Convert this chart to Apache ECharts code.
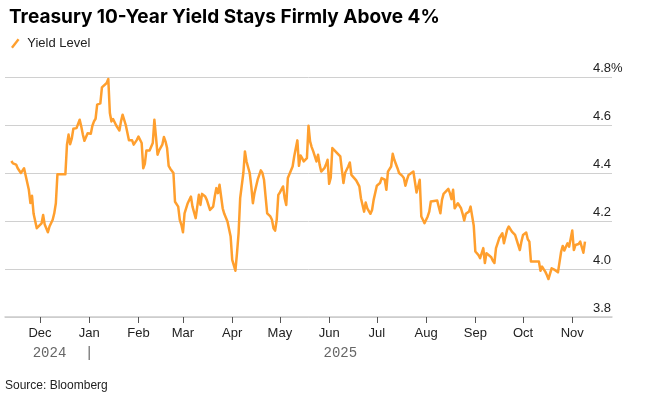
<!DOCTYPE html>
<html>
<head>
<meta charset="utf-8">
<script src="https://cdn.jsdelivr.net/npm/echarts@6/dist/echarts.min.js"></script>
<style>
html,body{margin:0;padding:0;background:#fff;}
#c{width:646px;height:401px;}
</style>
</head>
<body>
<div id="c"></div>
<script>
const title = 'Treasury 10-Year Yield Stays Firmly Above 4%';
const seriesName = 'Yield Level';
const sourceText = 'Source: Bloomberg';

const dates = [
'2024-11-13','2024-11-14','2024-11-16','2024-11-17','2024-11-19','2024-11-20','2024-11-21','2024-11-22','2024-11-24','2024-11-25','2024-11-26','2024-11-27','2024-11-29','2024-11-30',
'2024-12-02','2024-12-03','2024-12-04','2024-12-05','2024-12-06','2024-12-07','2024-12-09','2024-12-10','2024-12-11','2024-12-12','2024-12-17','2024-12-18','2024-12-19','2024-12-20','2024-12-21','2024-12-22','2024-12-24','2024-12-25','2024-12-26','2024-12-27','2024-12-28','2024-12-29','2024-12-31',
'2025-01-01','2025-01-02','2025-01-03','2025-01-04','2025-01-05','2025-01-06','2025-01-08','2025-01-09','2025-01-10','2025-01-12','2025-01-13','2025-01-14','2025-01-15','2025-01-16','2025-01-17','2025-01-18','2025-01-20','2025-01-21','2025-01-22','2025-01-24','2025-01-26','2025-01-27','2025-01-28','2025-01-29','2025-01-31',
'2025-02-01','2025-02-02','2025-02-03','2025-02-04','2025-02-05','2025-02-06','2025-02-08','2025-02-09','2025-02-10','2025-02-11','2025-02-12','2025-02-13','2025-02-14','2025-02-16','2025-02-17','2025-02-18','2025-02-19','2025-02-20','2025-02-21','2025-02-23','2025-02-24','2025-02-26','2025-02-27','2025-02-28',
'2025-03-01','2025-03-02','2025-03-04','2025-03-05','2025-03-06','2025-03-07','2025-03-09','2025-03-10','2025-03-11','2025-03-12','2025-03-13','2025-03-14','2025-03-15','2025-03-16','2025-03-18','2025-03-19','2025-03-20','2025-03-21','2025-03-22','2025-03-23','2025-03-24','2025-03-25','2025-03-26','2025-03-27','2025-03-29','2025-03-31',
'2025-04-01','2025-04-03','2025-04-04','2025-04-05','2025-04-06','2025-04-08','2025-04-09','2025-04-10','2025-04-12','2025-04-13','2025-04-14','2025-04-15','2025-04-16','2025-04-17','2025-04-19','2025-04-20','2025-04-21','2025-04-22','2025-04-23','2025-04-25','2025-04-26','2025-04-27','2025-04-28','2025-04-29','2025-04-30',
'2025-05-01','2025-05-03','2025-05-04','2025-05-05','2025-05-06','2025-05-07','2025-05-09','2025-05-10','2025-05-11','2025-05-12','2025-05-13','2025-05-14','2025-05-15','2025-05-16','2025-05-18','2025-05-19','2025-05-20','2025-05-21','2025-05-22','2025-05-24','2025-05-25','2025-05-26','2025-05-27','2025-05-28','2025-05-29','2025-05-30','2025-05-31',
'2025-06-01','2025-06-02','2025-06-03','2025-06-06','2025-06-08','2025-06-10','2025-06-11','2025-06-13','2025-06-14','2025-06-15','2025-06-16','2025-06-18','2025-06-20','2025-06-21','2025-06-22','2025-06-23','2025-06-24','2025-06-25','2025-06-27','2025-06-28','2025-06-29',
'2025-07-01','2025-07-03','2025-07-04','2025-07-06','2025-07-07','2025-07-08','2025-07-09','2025-07-10','2025-07-11','2025-07-12','2025-07-14','2025-07-15','2025-07-16','2025-07-17','2025-07-18','2025-07-19','2025-07-20','2025-07-21','2025-07-22','2025-07-24','2025-07-25','2025-07-26','2025-07-27','2025-07-28','2025-07-29','2025-07-30','2025-07-31',
'2025-08-02','2025-08-03','2025-08-04','2025-08-05','2025-08-08','2025-08-10','2025-08-11','2025-08-12','2025-08-13','2025-08-15','2025-08-16','2025-08-17','2025-08-18','2025-08-19','2025-08-20','2025-08-21','2025-08-23','2025-08-24','2025-08-25','2025-08-26','2025-08-28','2025-08-29','2025-08-30','2025-08-31',
'2025-09-01','2025-09-03','2025-09-04','2025-09-05','2025-09-06','2025-09-07','2025-09-08','2025-09-09','2025-09-11','2025-09-12','2025-09-13','2025-09-14','2025-09-15','2025-09-16','2025-09-17','2025-09-18','2025-09-19','2025-09-21','2025-09-22','2025-09-23','2025-09-24','2025-09-26','2025-09-27','2025-09-28','2025-09-29','2025-09-30',
'2025-10-01','2025-10-03','2025-10-04','2025-10-05','2025-10-06','2025-10-08','2025-10-09','2025-10-11','2025-10-12','2025-10-13','2025-10-14','2025-10-15','2025-10-16','2025-10-17','2025-10-19','2025-10-20','2025-10-21','2025-10-23','2025-10-24','2025-10-25','2025-10-26','2025-10-27','2025-10-28','2025-10-29','2025-10-30','2025-10-31',
'2025-11-01','2025-11-02','2025-11-03','2025-11-05','2025-11-06','2025-11-07','2025-11-08','2025-11-09'
];

const yields = [
4.45,4.44,4.435,4.42,4.40,4.41,4.42,4.39,4.33,4.275,4.305,4.23,4.17,4.177,
4.19,4.225,4.185,4.18,4.153,4.177,4.205,4.232,4.274,4.395,4.395,4.518,4.56,4.52,4.543,4.584,4.587,4.58,4.622,4.594,4.56,4.534,4.566,
4.559,4.564,4.597,4.615,4.626,4.685,4.69,4.757,4.764,4.775,4.792,4.65,4.615,4.625,4.62,4.598,4.577,4.615,4.643,4.60,4.536,4.529,4.536,4.518,4.538,
4.552,4.555,4.525,4.42,4.438,4.494,4.494,4.497,4.525,4.622,4.552,4.476,4.494,4.518,4.55,4.532,4.504,4.43,4.418,4.40,4.28,4.26,4.205,4.184,
4.153,4.232,4.274,4.281,4.302,4.26,4.212,4.26,4.309,4.267,4.313,4.309,4.302,4.288,4.246,4.239,4.26,4.302,4.337,4.316,4.351,4.358,4.253,4.23,4.198,4.135,
4.038,3.993,4.066,4.149,4.295,4.40,4.49,4.448,4.40,4.344,4.274,4.316,4.344,4.372,4.411,4.40,4.372,4.302,4.232,4.219,4.205,4.17,4.16,4.205,4.309,
4.319,4.344,4.295,4.267,4.379,4.379,4.427,4.469,4.462,4.536,4.43,4.473,4.462,4.448,4.462,4.597,4.532,4.508,4.49,4.448,4.476,4.435,4.406,4.40,4.42,4.435,4.455,
4.355,4.38,4.504,4.483,4.469,4.358,4.40,4.427,4.444,4.392,4.388,4.369,4.344,4.295,4.288,4.239,4.277,4.253,4.23,4.246,4.288,
4.347,4.358,4.379,4.372,4.33,4.406,4.413,4.427,4.48,4.455,4.42,4.40,4.40,4.388,4.379,4.347,4.372,4.392,4.397,4.406,4.413,4.319,4.344,4.372,4.219,4.205,4.191,
4.219,4.239,4.281,4.283,4.285,4.232,4.288,4.313,4.319,4.334,4.316,4.291,4.33,4.253,4.26,4.274,4.253,4.23,4.202,4.23,4.239,4.26,4.26,4.18,
4.073,4.058,4.045,4.041,4.087,4.025,4.066,4.058,4.049,4.034,4.025,4.087,4.107,4.128,4.135,4.149,4.107,4.163,4.177,4.17,4.156,4.142,4.149,4.10,4.079,4.114,
4.142,4.152,4.124,4.114,4.031,4.031,4.031,4.031,3.993,4.01,3.999,3.989,3.975,3.958,4.003,4.003,3.996,3.986,3.986,4.073,4.096,4.077,4.093,4.107,4.093,4.10,
4.16,4.079,4.10,4.104,4.114,4.107,4.068,4.114
];

const monthTickDates = ['2024-12-01','2025-01-01','2025-02-01','2025-03-01','2025-04-01','2025-05-01','2025-06-01','2025-07-01','2025-08-01','2025-09-01','2025-10-01','2025-11-01'];
const monthLabels = ['Dec','Jan','Feb','Mar','Apr','May','Jun','Jul','Aug','Sep','Oct','Nov'];
const yearLabelDates = ['2024-12-07','2025-01-01','2025-06-08'];
const yearLabels = ['2024','|','2025'];
const xRange = ['2024-11-09','2025-11-26'];
const yTicks = [3.8, 4.0, 4.2, 4.4, 4.6, 4.8];

const ts = s => { const p = s.split('-').map(Number); return Date.UTC(p[0], p[1] - 1, p[2]); };
const lineData = dates.map((d, i) => [ts(d), yields[i]]);
const monthTs = monthTickDates.map(ts);
const yearTs = yearLabelDates.map(ts);

const chart = echarts.init(document.getElementById('c'), null, {renderer: 'canvas'});
const fontFam = "'Liberation Sans', Arial, sans-serif";

chart.setOption({
  animation: false,
  backgroundColor: '#ffffff',
  title: {
    text: title,
    left: 4, top: 3,
    textStyle: {fontFamily: "Inter, 'Liberation Sans', sans-serif", fontWeight: 700, fontSize: 19, color: '#000'}
  },
  legend: {
    left: 6, top: 32,
    itemWidth: 10, itemHeight: 10, itemGap: 10,
    icon: 'path://M0,9 L7,0 L9,1.6 L2,10.6 Z',
    textStyle: {fontFamily: fontFam, fontSize: 13, color: '#222', padding: [0,0,0,2]},
    data: [seriesName]
  },
  graphic: [{
    type: 'text', left: 5, top: 380,
    style: {text: sourceText, fontFamily: fontFam, fontSize: 12, fill: '#222'}
  }],
  grid: {left: 5, right: 34, top: 77, bottom: 84, containLabel: false},
  xAxis: [{
    type: 'value',
    min: ts(xRange[0]), max: ts(xRange[1]),
    axisLine: {show: true, lineStyle: {color: '#cccccc', width: 1.5}},
    axisTick: {show: true, customValues: monthTs, length: 6, lineStyle: {color: '#555', width: 1}},
    axisLabel: {
      customValues: monthTs,
      formatter: v => monthLabels[monthTs.indexOf(v)] || '',
      fontFamily: fontFam, fontSize: 13, color: '#222', margin: 10, hideOverlap: false
    },
    splitLine: {show: false}
  }, {
    type: 'value',
    position: 'bottom',
    offset: 21,
    min: ts(xRange[0]), max: ts(xRange[1]),
    axisLine: {show: false},
    axisTick: {show: false},
    axisLabel: {
      customValues: yearTs,
      formatter: v => yearLabels[yearTs.indexOf(v)] || '',
      fontFamily: "'Liberation Mono', 'DejaVu Sans Mono', monospace", fontSize: 14, color: '#666', margin: 8, hideOverlap: false
    },
    splitLine: {show: false}
  }],
  yAxis: {
    type: 'value',
    position: 'right',
    min: yTicks[0], max: yTicks[yTicks.length - 1], interval: 0.2,
    axisLine: {show: false},
    axisTick: {show: false},
    splitLine: {show: true, lineStyle: {color: '#d0d0d0', width: 1}},
    axisLabel: {
      inside: true, margin: 19, align: 'left', verticalAlign: 'bottom',
      padding: [0, 0, 2, 0],
      formatter: v => (Math.abs(v - yTicks[yTicks.length - 1]) < 1e-6 ? v.toFixed(1) + '%' : v.toFixed(1)),
      fontFamily: fontFam, fontSize: 13, color: '#222'
    }
  },
  series: [{
    name: seriesName,
    type: 'line',
    xAxisIndex: 0,
    data: lineData,
    showSymbol: false,
    symbol: 'none',
    lineStyle: {color: '#FF9F2E', width: 2.5, join: 'round'},
    itemStyle: {color: '#FF9F2E'}
  }]
});
</script>
</body>
</html>
